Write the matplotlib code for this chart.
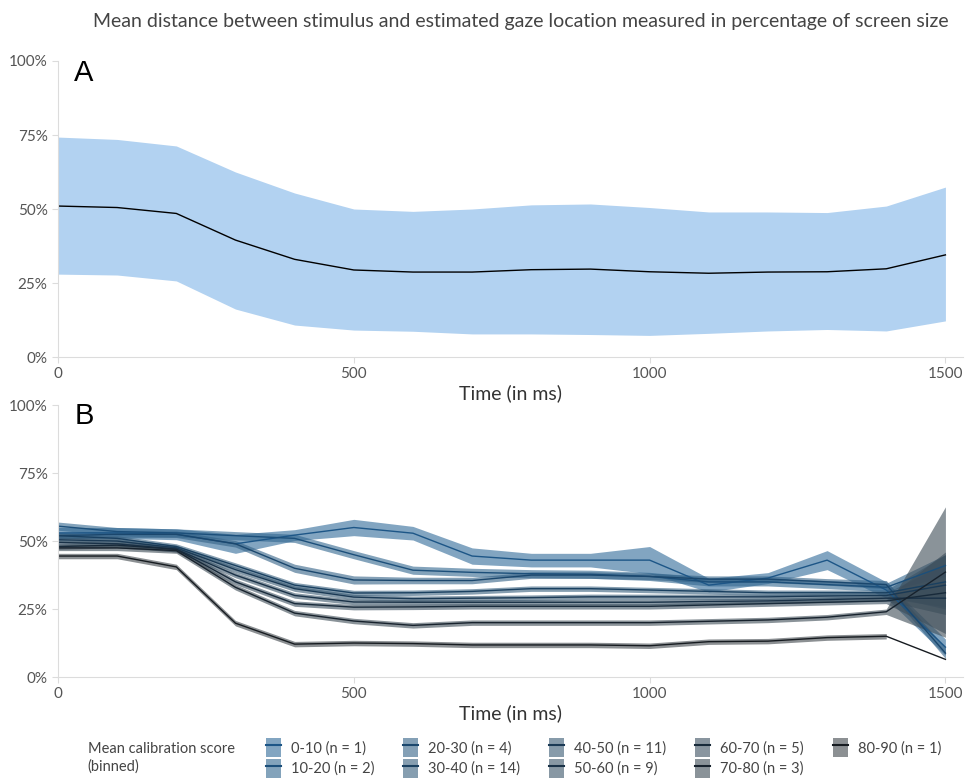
import matplotlib
matplotlib.use('Agg')
import matplotlib.pyplot as plt
import numpy as np
from matplotlib.patches import Patch
from matplotlib.lines import Line2D
from matplotlib.legend_handler import HandlerTuple
from matplotlib.colors import to_rgb
from matplotlib.ticker import FuncFormatter

plt.rcParams['font.family'] = ['Lato', 'DejaVu Sans']

time_ms = list(range(0, 1501, 100))

# panel A: overall mean with spread
mean_a = [51, 50.5, 48.5, 39.5, 33, 29.4, 28.7, 28.7, 29.5, 29.7, 28.8, 28.3, 28.7, 28.8, 29.8, 34.5]
upper_a = [74.3, 73.5, 71.3, 62.5, 55.4, 50, 49.2, 50, 51.4, 51.7, 50.5, 49, 49, 48.8, 51, 57.4]
lower_a = [28, 27.7, 25.7, 16.2, 10.8, 9.1, 8.7, 7.8, 7.8, 7.6, 7.3, 8, 8.8, 9.3, 8.8, 12.2]

# panel B: by calibration score bin
bins = ['0-10 (n = 1)', '10-20 (n = 2)', '20-30 (n = 4)', '30-40 (n = 14)', '40-50 (n = 11)',
        '50-60 (n = 9)', '60-70 (n = 5)', '70-80 (n = 3)', '80-90 (n = 1)']
means_b = [
    [53, 53, 52.5, 49, 52.2, 55, 52.9, 44.5, 43, 43, 43, 33.8, 36.4, 43, 32, 11],
    [55.5, 53.5, 53, 52, 51, 45, 39.3, 38.5, 38, 37.8, 37, 35, 35, 34, 33, 41],
    [52, 52.5, 52.5, 49, 40, 35.7, 35.5, 35.5, 37.5, 37.5, 37, 36, 36, 35, 34, 8.8],
    [52, 51, 48, 41, 33.8, 30.9, 31, 31.5, 32.5, 32.5, 32, 31.5, 31, 31, 31, 35],
    [50.5, 50, 47.5, 39.5, 32.5, 29.4, 28.8, 29, 29.2, 29.5, 29.5, 29.5, 29.5, 29.8, 30, 33.8],
    [49.5, 49, 47, 37.5, 30, 27.6, 27.5, 27.5, 27.5, 27.5, 27.5, 27.8, 28, 28.5, 29, 29],
    [48, 48.5, 47, 35, 27, 25.7, 25.8, 26, 26, 26, 26, 26.5, 27, 27.5, 28, 31],
    [47.5, 47.5, 46.5, 33, 23.5, 20.6, 19, 20, 20, 20, 20, 20.5, 21, 22, 24, 38.6],
    [44.5, 44.5, 40.5, 19.8, 12.1, 12.5, 12.3, 11.8, 11.8, 11.8, 11.5, 13, 13.2, 14.5, 15, 6.5],
]
se_b = [
    [2, 2, 2, 3.5, 2, 3, 2.5, 3, 2.5, 2.5, 5, 2.5, 2, 3.5, 3, 3],
    [1.5, 1.5, 1.5, 1.5, 1.5, 1.5, 1.5, 1.5, 1.5, 1.5, 1.5, 1.5, 1.5, 1.5, 1.5, 4],
    [1.2, 1.2, 1.2, 1.2, 1.5, 1.5, 1.2, 1.2, 1.2, 1.2, 1.2, 1.2, 1.2, 1.2, 1.5, 2],
    [1, 1, 1, 1, 1, 1, 1, 1, 1, 1, 1, 1, 1, 1, 1, 10],
    [1, 1, 1, 1, 1, 1, 1, 1, 1, 1, 1, 1, 1, 1, 1, 8],
    [1, 1, 1, 1, 1, 1, 1, 1, 1, 1, 1, 1, 1, 1, 1, 6],
    [1, 1, 1, 1, 1, 1, 1, 1, 1, 1, 1, 1, 1, 1, 1, 15],
    [1, 1, 1, 1, 1, 1, 1, 1, 1, 1, 1, 1, 1, 1, 1, 24],
    [1, 1, 1, 1, 1, 1, 1, 1, 1, 1, 1, 1, 1, 1, 1, np.nan],
]


def blend(c1, c2, f):
    a, b = np.array(to_rgb(c1)), np.array(to_rgb(c2))
    return tuple(a + (b - a) * f)


line_cols = [blend('#1d5687', '#161b20', i / 8) for i in range(9)]
fill_cols = [blend('#2f6a99', '#3f464b', i / 8) for i in range(9)]

fig = plt.figure(figsize=(9.65, 7.79), dpi=100)
ax_a = fig.add_axes([0.0601, 0.5417, 0.938, 0.38])
ax_b = fig.add_axes([0.0601, 0.1309, 0.938, 0.349])

ax_a.fill_between(time_ms, lower_a, upper_a, color='#b2d2f1', lw=0)
ax_a.plot(time_ms, mean_a, color='black', lw=1)

for i in range(9):
    m = np.array(means_b[i])
    s = np.array(se_b[i])
    ax_b.fill_between(time_ms, m - s, m + s, color=fill_cols[i], alpha=0.6, lw=0)
for i in range(9):
    ax_b.plot(time_ms, means_b[i], color=line_cols[i], lw=1.0)

pct = FuncFormatter(lambda v, p: f'{int(v)}%')
for ax, lab in [(ax_a, 'A'), (ax_b, 'B')]:
    ax.set_xlim(0, 1530)
    ax.set_ylim(0, 100)
    ax.set_xticks([0, 500, 1000, 1500])
    ax.set_yticks([0, 25, 50, 75, 100])
    ax.yaxis.set_major_formatter(pct)
    for sp in ['top', 'right']:
        ax.spines[sp].set_visible(False)
    for sp in ['left', 'bottom']:
        ax.spines[sp].set_color('#dcdcdc')
    ax.tick_params(colors='#dcdcdc', labelcolor='#555555', labelsize=11, length=4)
    ax.set_xlabel('Time (in ms)', fontsize=14, color='#333333', labelpad=2)
    ax.text(0.018, 0.96, lab, transform=ax.transAxes, fontsize=21, va='center',
            family='Liberation Sans')

fig.text(0.54, 0.973, 'Mean distance between stimulus and estimated gaze location measured in percentage of screen size',
         ha='center', va='center', fontsize=14, color='#444444')

handles = [(Patch(facecolor=fill_cols[i], alpha=0.6, edgecolor='none'),
            Line2D([], [], color=line_cols[i], lw=1.5)) for i in range(9)]
fig.legend(handles, bins, ncol=5, loc='center left', bbox_to_anchor=(0.262, 0.027),
           frameon=False, fontsize=10.5, labelcolor='#444444', handlelength=1.0, handleheight=1.6,
           handletextpad=0.7, columnspacing=2.0, labelspacing=0.15,
           handler_map={tuple: HandlerTuple(ndivide=1)})
fig.text(0.091, 0.027, 'Mean calibration score\n(binned)', ha='left', va='center',
         fontsize=10.5, color='#444444', linespacing=1.3)

fig.savefig('out.png', dpi=100)
